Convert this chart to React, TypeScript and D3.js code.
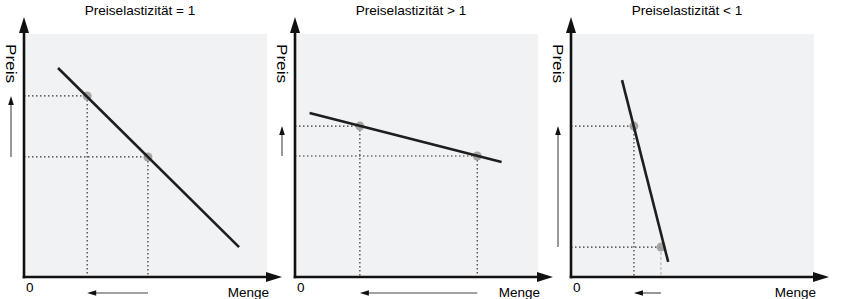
import React from "react";
import * as d3 from "d3";

const width = 846;
const height = 299;

const titles = ["Preiselastizität = 1", "Preiselastizität > 1", "Preiselastizität < 1"];
const axisLabelY = "Preis";
const axisLabelX = "Menge";
const originLabel = "0";

// demand line end points and the two marked points, in (Menge, Preis) units 0..100
const lineStart = [[14, 86], [6, 67.5], [21, 81]];
const lineEnd = [[88.5, 12.3], [85, 47.3], [40, 6.2]];
const pointA = [[26, 74.5], [26.7, 62.1], [25.9, 62.1]];
const pointB = [[51, 49.4], [75, 49.8], [37, 12.3]];

const panelLeft = [24, 295, 571];
const plotTop = 34;
const plotBottom = 277;
const plotSize = 243;

function Panel({ i }: { i: number }) {
  const x0 = panelLeft[i];
  const x = d3.scaleLinear().domain([0, 100]).range([x0, x0 + plotSize]);
  const y = d3.scaleLinear().domain([0, 100]).range([plotBottom, plotTop]);
  const line = d3.line<number[]>().x((d) => x(d[0])).y((d) => y(d[1]));
  const a = pointA[i];
  const b = pointB[i];
  const arrowX = x0 - 13;

  return (
    <g>
      <rect x={x0} y={plotTop} width={plotSize} height={plotBottom - plotTop} fill="#f1f2f4" />
      <text x={x0 + 116} y={15} textAnchor="middle" fontSize={13.6}>
        {titles[i]}
      </text>

      {/* drop lines */}
      {[a, b].map((p, k) => {
        const light = i === 2 && k === 1;
        return (
          <g key={k} fill="none">
            <line x1={x0} x2={x(p[0])} y1={y(p[1])} y2={y(p[1])} stroke="#333" strokeWidth={1.2} strokeDasharray="1.5 2.5" />
            <line x1={x(p[0])} x2={x(p[0])} y1={y(p[1])} y2={plotBottom} stroke={light ? "#b8b8b8" : "#333"} strokeWidth={1.2} strokeDasharray={light ? "3 2" : "1.5 2.5"} />
          </g>
        );
      })}

      {[a, b].map((p, k) => (
        <circle key={k} cx={x(p[0])} cy={y(p[1])} r={4.5} fill="#999" opacity={0.85} />
      ))}

      <path d={line([lineStart[i], lineEnd[i]]) || ""} stroke="#1e1e1e" strokeWidth={2.6} fill="none" />

      {/* axes */}
      <line x1={x0} x2={x0} y1={plotBottom + 1.3} y2={30} stroke="#111" strokeWidth={2.6} />
      <path d={`M${x0},17 L${x0 - 5},33 L${x0 + 5},33 Z`} fill="#111" />
      <line x1={x0 - 1.3} x2={x0 + 245} y1={plotBottom} y2={plotBottom} stroke="#111" strokeWidth={2.6} />
      <path d={`M${x0 + 258},${plotBottom} L${x0 + 242},${plotBottom - 5} L${x0 + 242},${plotBottom + 5} Z`} fill="#111" />

      <text x={x0 + 2} y={292} fontSize={13.5}>{originLabel}</text>
      <text x={x0 + 245} y={297} fontSize={13.5} textAnchor="end">{axisLabelX}</text>
      <text
        transform={`translate(${x0 - 18},${plotTop + 10}) rotate(90)`}
        fontSize={14.5}
        textLength={39}
        lengthAdjust="spacingAndGlyphs"
      >
        {axisLabelY}
      </text>

      {/* price change arrow */}
      <line x1={arrowX} x2={arrowX} y1={y(b[1])} y2={y(a[1]) + 6} stroke="#444" strokeWidth={1.1} />
      <path d={`M${arrowX},${y(a[1])} L${arrowX - 2.8},${y(a[1]) + 9} L${arrowX + 2.8},${y(a[1]) + 9} Z`} fill="#111" />

      {/* quantity change arrow */}
      <line x1={x(b[0])} x2={x(a[0]) + 6} y1={293} y2={293} stroke="#444" strokeWidth={1.1} />
      <path d={`M${x(a[0])},293 L${x(a[0]) + 9},${293 - 2.8} L${x(a[0]) + 9},${293 + 2.8} Z`} fill="#111" />
    </g>
  );
}

export default function App() {
  return (
    <svg
      width={width}
      height={height}
      style={{ position: "absolute", left: 0, top: 0, fontFamily: "Liberation Sans, Arial, sans-serif" }}
    >
      <rect width={width} height={height} fill="#fff" />
      {titles.map((t, i) => (
        <Panel key={t} i={i} />
      ))}
    </svg>
  );
}
